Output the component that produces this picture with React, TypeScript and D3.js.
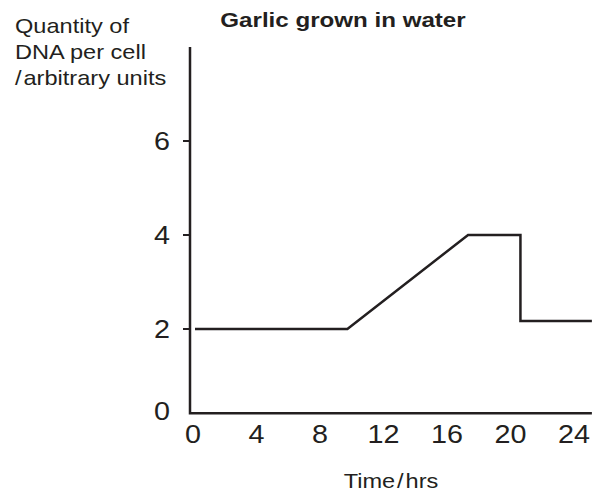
import React, { useEffect, useRef } from "react";
import * as d3 from "d3";

// hours and quantity of DNA
const timeHrs = [0, 9.6, 17.2, 20.5, 20.5, 25];
const dnaQuantity = [2, 2, 4, 4, 2.17, 2.17];

const xTickValues = [0, 4, 8, 12, 16, 20, 24];
const yTickValues = [2, 4, 6];
const yLabelLines = ["Quantity of", "DNA per cell", "/\u200Aarbitrary units"];
const chartTitle = "Garlic grown in water";
const xTitle = "Time\u200A/\u200Ahrs";

const INK = "#231f20";
const FONT = "'Liberation Sans', Arial, sans-serif";
const STRETCH = 1.15; // the original figure is a bit wider than tall

function App() {
  const svgRef = useRef(null);

  useEffect(() => {
    const width = 605;
    const height = 495;

    const svg = d3.select(svgRef.current);
    svg.selectAll("*").remove();
    svg.attr("width", width).attr("height", height);

    const x = d3.scaleLinear().domain([0, 24]).range([195, 576]);
    const y = d3.scaleLinear().domain([0, 8]).range([423, 47]);

    const axisBase = 0.21; // the time axis sits just above zero
    const xAxisEnd = 25;
    const yAxisTop = 8;
    const axisX = 190;

    // helper for horizontally stretched text
    const addText = (tx, ty, str, size, anchor, weight = "normal") =>
      svg
        .append("g")
        .attr("transform", `translate(${tx},${ty}) scale(${STRETCH},1)`)
        .append("text")
        .attr("text-anchor", anchor)
        .attr("font-family", FONT)
        .attr("font-size", size)
        .attr("font-weight", weight)
        .attr("fill", INK)
        .text(str);

    // axes
    svg
      .append("path")
      .attr("d", `M${axisX},${y(yAxisTop)}V${y(axisBase)}H${x(xAxisEnd)}`)
      .attr("fill", "none")
      .attr("stroke", INK)
      .attr("stroke-width", 2.5)
      .attr("stroke-linejoin", "miter");

    // y ticks
    svg
      .selectAll(".ytick")
      .data(yTickValues)
      .enter()
      .append("line")
      .attr("class", "ytick")
      .attr("x1", axisX - 7)
      .attr("x2", axisX)
      .attr("y1", (d) => y(d))
      .attr("y2", (d) => y(d))
      .attr("stroke", INK)
      .attr("stroke-width", 2);

    yTickValues.forEach((v) => addText(170, y(v) + 9, String(v), 25, "end"));
    addText(170, y(axisBase) + 7, "0", 25, "end");

    // x tick labels
    xTickValues.forEach((v) => addText(x(v) - 2, 443, String(v), 25, "middle"));

    // data line
    const line = d3
      .line()
      .x((d) => x(d[0]))
      .y((d) => y(d[1]));

    svg
      .append("path")
      .datum(timeHrs.map((t, i) => [t, dnaQuantity[i]]))
      .attr("d", line)
      .attr("fill", "none")
      .attr("stroke", INK)
      .attr("stroke-width", 2.5)
      .attr("stroke-linejoin", "miter");

    // titles
    addText(343, 27, chartTitle, 21, "middle", "bold");
    addText(391, 488, xTitle, 20.5, "middle");
    yLabelLines.forEach((s, i) => addText(15, 33 + i * 26, s, 20.5, "start"));
  }, []);

  return (
    <svg
      ref={svgRef}
      style={{ position: "absolute", left: 0, top: 0, background: "#fff" }}
    ></svg>
  );
}

export default App;
